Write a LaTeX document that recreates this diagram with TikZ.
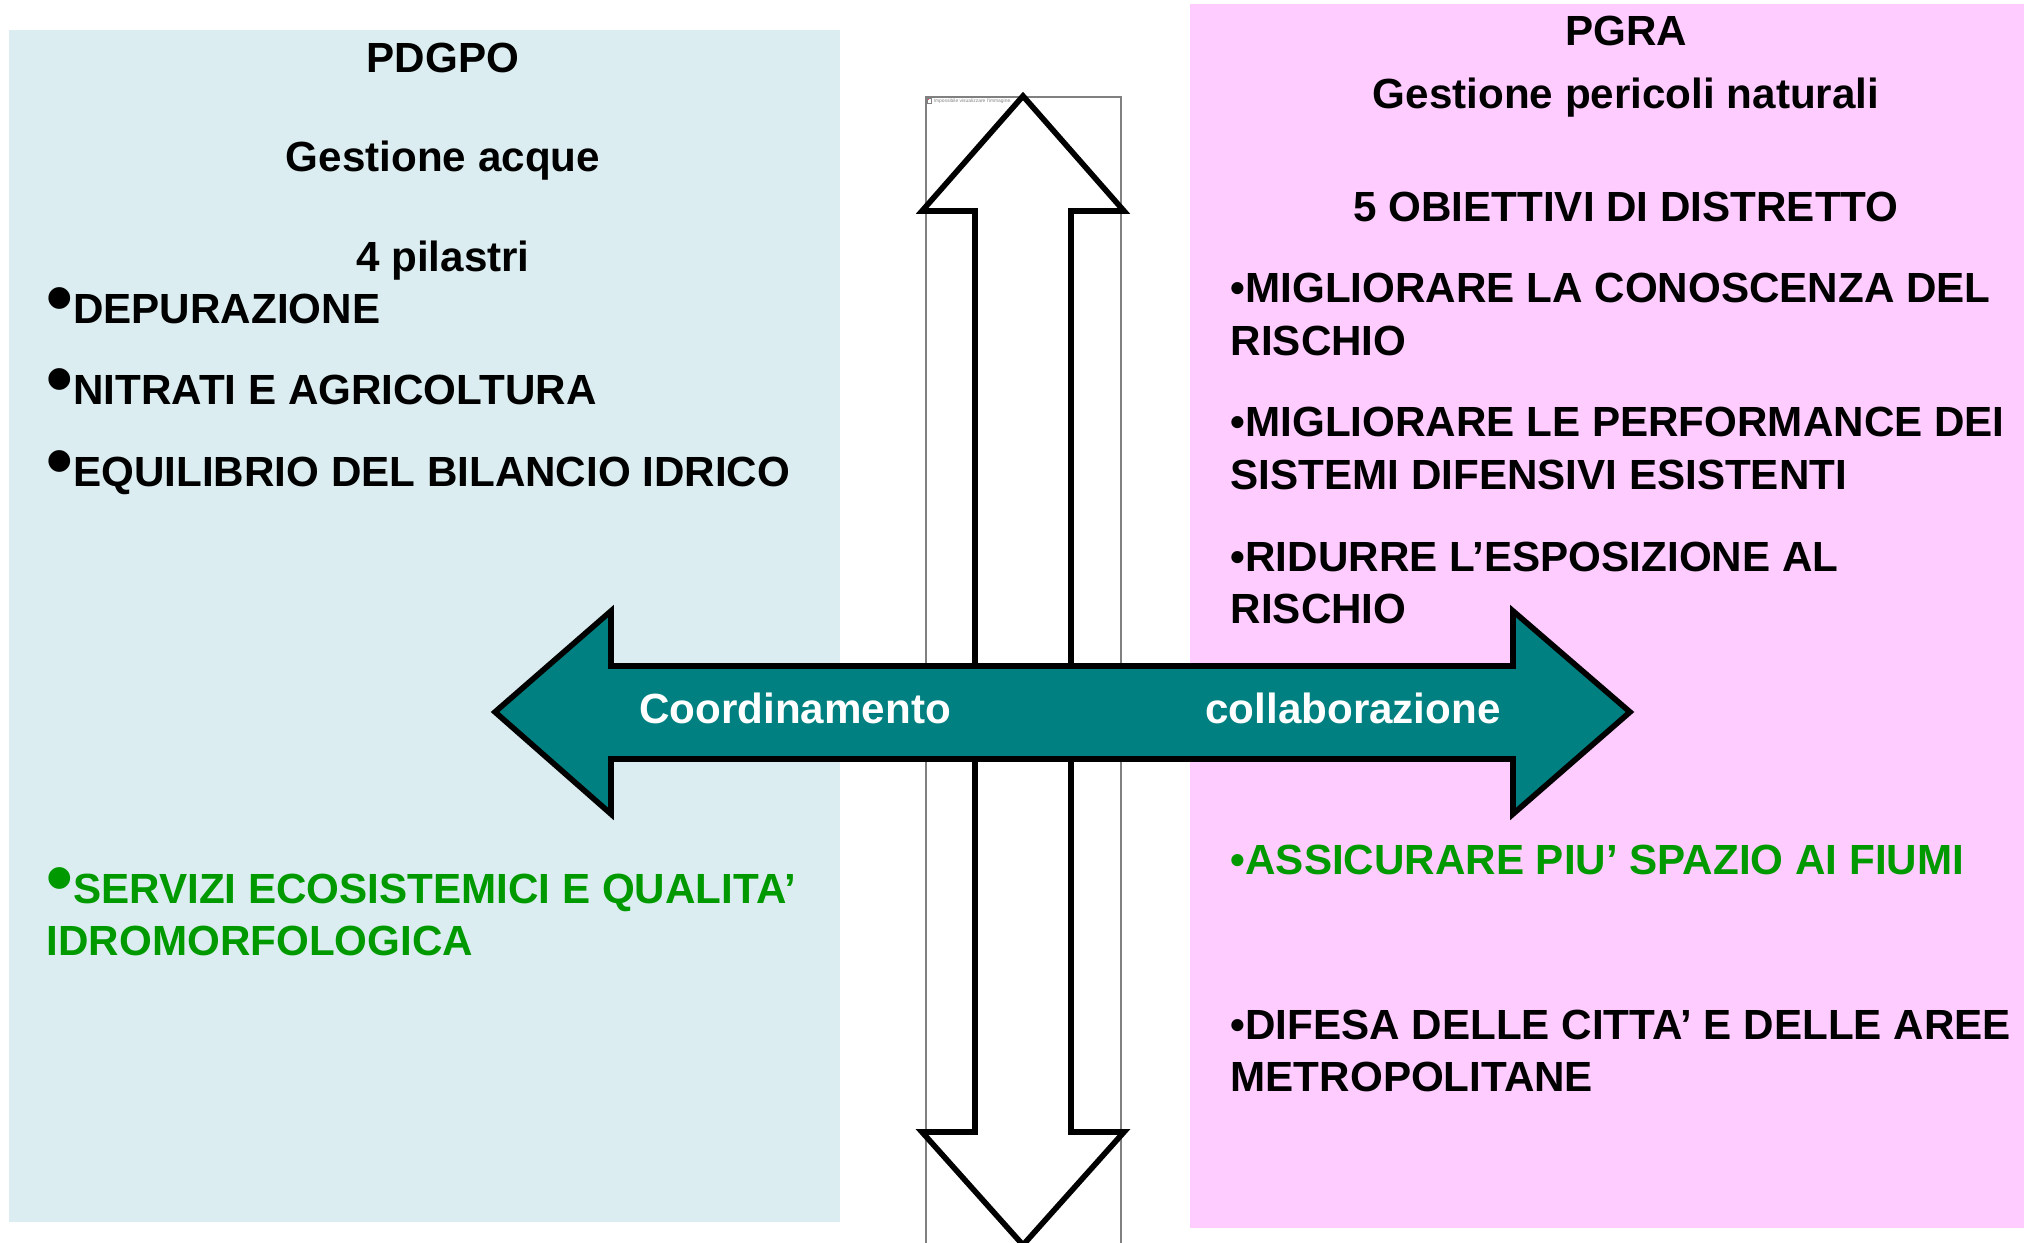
\documentclass[tikz,border=0pt]{standalone}
\usepackage{fontspec}
\setmainfont{Liberation Sans}

\definecolor{acque}{RGB}{219,237,240}
\definecolor{pericoli}{RGB}{255,204,255}
\definecolor{petrolio}{RGB}{0,128,128}
\definecolor{verde}{RGB}{0,153,0}

\newcommand{\bigbullet}{\scalebox{1.8}{\textbullet}}

\begin{document}
\begin{tikzpicture}[x=0.1mm,y=-0.1mm]

	% INPUTS
	\newcommand{\hmid}{712}		% y of the axis of the horizontal arrow
	\newcommand{\vmid}{1023}	% x of the axis of the vertical arrow
	% Note: a node with two lines sits on the baseline of its last line

	% styles
	\tikzstyle{freccia}=[draw=black,line width=1.6pt,line join=miter];
	\tikzstyle{titolo}=[anchor=base,inner sep=0pt,font=\bfseries\fontsize{12}{14.8}\selectfont];
	\tikzstyle{voce}=[anchor=base west,inner sep=0pt,align=left,font=\bfseries\fontsize{12}{14.8}\selectfont];

	\useasboundingbox (0,0) rectangle (2024,1242);

	% the two panels
	\fill[acque] (9,30) rectangle (840,1222);
	\fill[pericoli] (1190,4) rectangle (2024,1228);

	% frame of the missing picture
	\draw[gray,line width=0.3pt] (926,1250) -- (926,97) -- (1121,97) -- (1121,1250);
	\draw[gray,line width=0.2pt,fill=white] (927,98) rectangle (931,103);
	\fill[red!70] (927.5,98.5) rectangle (929,100);
	\node[anchor=base west,inner sep=0pt,text=gray,font=\fontsize{1.4}{1.6}\selectfont] (noimg) at (933,102) {Impossibile visualizzare l'immagine.};

	% vertical double arrow
	\filldraw[style=freccia,fill=white] (\vmid,96) -- (1124,211) -- (1071,211) -- (1071,1132) -- (1124,1132) -- (\vmid,1245) -- (922,1132) -- (975,1132) -- (975,211) -- (922,211) -- cycle;

	% horizontal double arrow
	\filldraw[style=freccia,fill=petrolio] (495,\hmid) -- (611,611) -- (611,666) -- (1513,666) -- (1513,611) -- (1630,\hmid) -- (1513,814) -- (1513,759) -- (611,759) -- (611,814) -- cycle;
	\node[titolo,text=white] (coord) at (795,723) {Coordinamento};
	\node[titolo,text=white] (collab) at (1353,723) {collaborazione};

	% left panel
	\node[titolo] (pdgpo) at (443,72) {PDGPO};
	\node[titolo] (acque) at (443,171) {Gestione acque};
	\node[titolo] (pilastri) at (443,271) {4 pilastri};
	\node[voce] (depur) at (46,323) {\bigbullet DEPURAZIONE};
	\node[voce] (nitrati) at (46,404) {\bigbullet NITRATI E AGRICOLTURA};
	\node[voce] (bilancio) at (46,486) {\bigbullet EQUILIBRIO DEL BILANCIO IDRICO};
	\node[voce,text=verde] (servizi) at (46,955) {\bigbullet SERVIZI ECOSISTEMICI E QUALITA’\\IDROMORFOLOGICA};

	% right panel
	\node[titolo] (pgra) at (1626,45) {PGRA};
	\node[titolo] (pericoli) at (1626,108) {Gestione pericoli naturali};
	\node[titolo] (obiettivi) at (1626,221) {5 OBIETTIVI DI DISTRETTO};
	\node[voce] (conoscenza) at (1230,355) {•MIGLIORARE LA CONOSCENZA DEL\\RISCHIO};
	\node[voce] (performance) at (1230,489) {•MIGLIORARE LE PERFORMANCE DEI\\SISTEMI DIFENSIVI ESISTENTI};
	\node[voce] (esposizione) at (1230,623) {•RIDURRE L’ESPOSIZIONE AL\\RISCHIO};
	\node[voce,text=verde] (spazio) at (1230,874) {•ASSICURARE PIU’ SPAZIO AI FIUMI};
	\node[voce] (citta) at (1230,1091) {•DIFESA DELLE CITTA’ E DELLE AREE\\METROPOLITANE};

\end{tikzpicture}
\end{document}
